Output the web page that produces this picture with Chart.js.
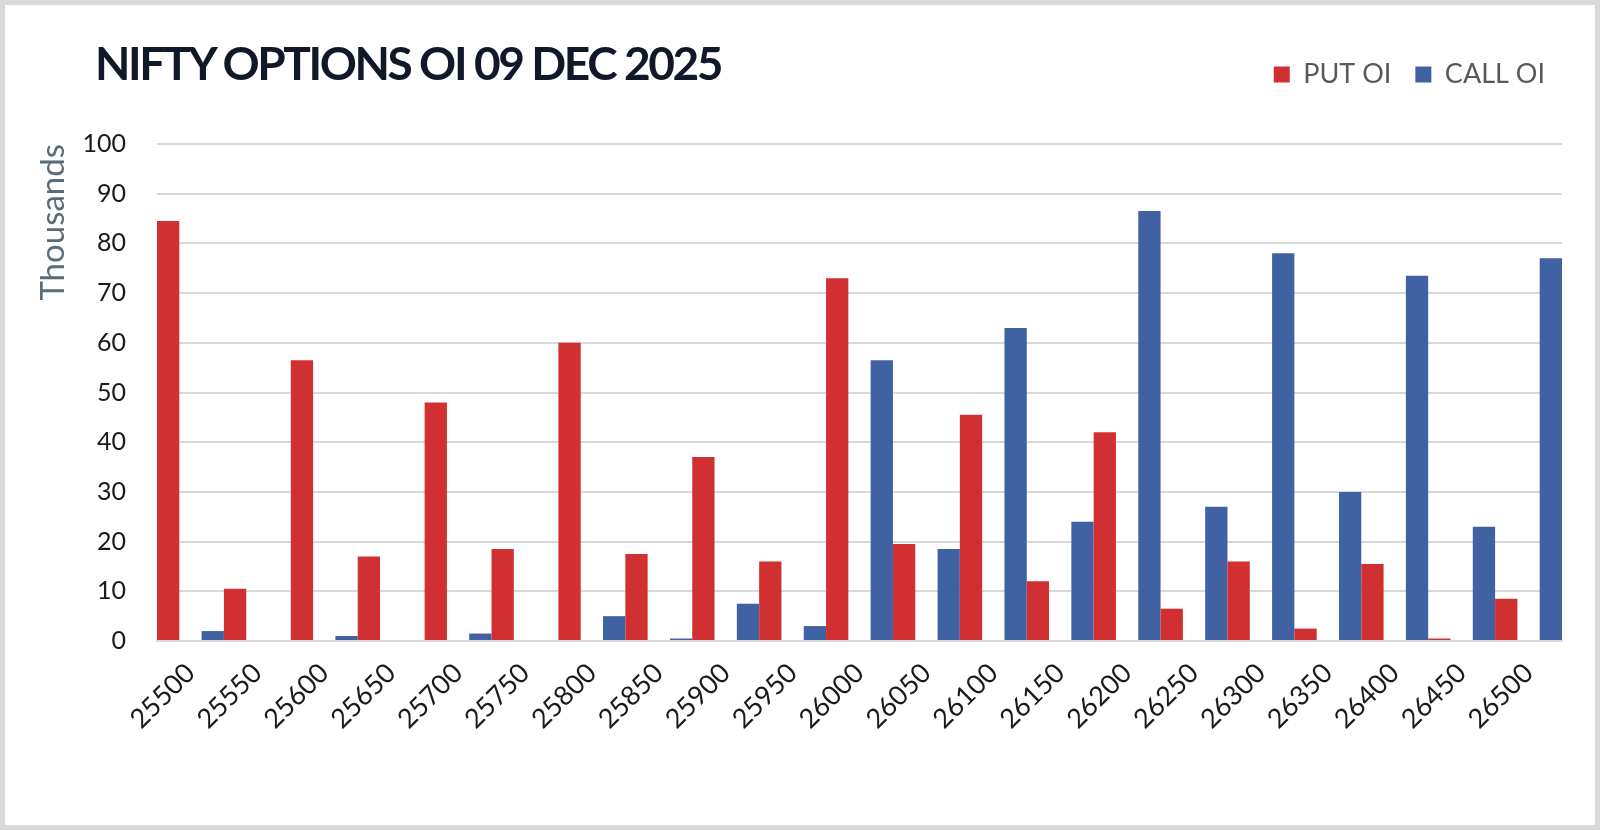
<!DOCTYPE html>
<html>
<head>
  <title>Nifty Options OI</title>
  <script src="https://cdn.jsdelivr.net/npm/chart.js"></script>
  <style>
    body { margin: 0; background: #fff; }
    #wrap {
      position: relative;
      width: 1600px;
      height: 830px;
      box-sizing: border-box;
      border: 5px solid #d9d9d9;
      background: #fff;
    }
    #title {
      position: absolute;
      left: 90px;
      top: 30px;
      margin: 0;
      font-family: Lato, sans-serif;
      font-weight: 700;
      font-size: 46px;
      letter-spacing: -2.4px;
      color: #111827;
      white-space: nowrap;
    }
    canvas { display: block; }
  </style>
</head>
<body>
  <div id="wrap">
    <h1 id="title">NIFTY OPTIONS OI 09 DEC 2025</h1>
    <canvas id="oiChart" width="1590" height="820"></canvas>
  </div>

  <script>
    // strikes
    const strikes = ['25500', '25550', '25600', '25650', '25700', '25750', '25800', '25850', '25900', '25950',
      '26000', '26050', '26100', '26150', '26200', '26250', '26300', '26350', '26400', '26450', '26500'];

    // open interest, in thousands
    const putOI = [84.5, 10.5, 56.5, 17, 48, 18.5, 60, 17.5, 37, 16,
      73, 19.5, 45.5, 12, 42, 6.5, 16, 2.5, 15.5, 0.5, 8.5];
    const callOI = [2, 0, 1, 0, 1.5, 0, 5, 0.5, 7.5, 3,
      56.5, 18.5, 63, 24, 86.5, 27, 78, 30, 73.5, 23, 77];

    const yTicks = [0, 10, 20, 30, 40, 50, 60, 70, 80, 90, 100];

    const RED = '#d03031';
    const BLUE = '#4062a3';
    const GRID = '#d9d9d9';

    // the legend shares the title row, so leave room below it
    // and nudge it a little to the right of the plot edge
    const legendRoom = {
      id: 'legendRoom',
      beforeInit(chart) {
        const fit = chart.legend.fit;
        chart.legend.fit = function () {
          fit.call(this);
          this.height += 46;
        };
      },
      afterLayout(chart) {
        chart.legend.left += 7;
        chart.legend.right += 7;
      }
    };

    const ctx = document.getElementById('oiChart').getContext('2d');
    new Chart(ctx, {
      type: 'bar',
      data: {
        labels: strikes,
        datasets: [
          { label: 'PUT OI', data: putOI, backgroundColor: RED },
          { label: 'CALL OI', data: callOI, backgroundColor: BLUE }
        ]
      },
      plugins: [legendRoom],
      options: {
        responsive: false,
        animation: false,
        // bars sit at the edges of each strike, with a bar-wide gap between them
        categoryPercentage: 4 / 3,
        barPercentage: 0.5,
        layout: { padding: { top: 32, right: 33, left: 0, bottom: 0 } },
        plugins: {
          title: { display: false },
          tooltip: { enabled: false },
          legend: {
            position: 'top',
            align: 'end',
            labels: {
              boxWidth: 16,
              boxHeight: 16,
              padding: 24,
              color: '#595959',
              font: { family: 'Lato', size: 27 }
            }
          }
        },
        scales: {
          x: {
            grid: { display: false, drawTicks: false },
            border: { display: true, color: GRID, width: 2 },
            ticks: {
              autoSkip: false,
              maxRotation: 45,
              minRotation: 45,
              padding: 16,
              color: '#1a1a1a',
              font: { family: 'Lato', size: 27 }
            },
            afterFit: (scale) => { scale.height = 184; }
          },
          y: {
            min: 0,
            max: 100,
            afterBuildTicks: (scale) => { scale.ticks = yTicks.map(v => ({ value: v })); },
            grid: { color: GRID, lineWidth: 2, drawTicks: false },
            border: { display: false },
            ticks: {
              padding: 31,
              color: '#1a1a1a',
              font: { family: 'Lato', size: 25 }
            },
            title: {
              display: true,
              text: 'Thousands',
              align: 'end',
              color: '#5b6b78',
              font: { family: 'Lato', size: 33 },
              padding: { top: 29, bottom: 0 }
            },
            afterFit: (scale) => { scale.width = 152; }
          }
        }
      }
    });
  </script>
</body>
</html>
